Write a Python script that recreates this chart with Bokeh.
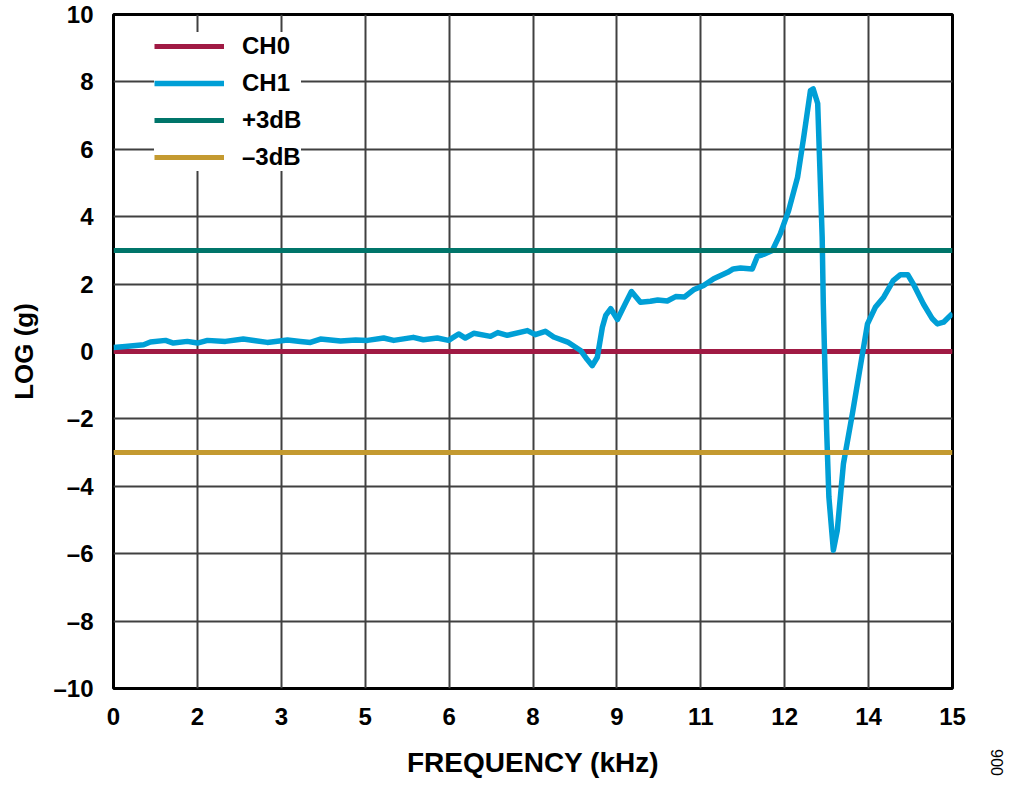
import math
from bokeh.plotting import figure
from bokeh.layouts import row
from bokeh.models import FixedTicker, Legend, LegendItem, Range1d
from bokeh.core.properties import value
from bokeh.embed import file_html
from bokeh.resources import INLINE

# ---- data ----
freq = [0.00, 0.21, 0.54, 0.66, 0.93, 1.07, 1.32, 1.50, 1.68, 2.00, 2.32, 2.54,
        2.75, 3.11, 3.34, 3.52, 3.70, 4.06, 4.33, 4.54, 4.83, 5.01, 5.36, 5.54,
        5.79, 5.99, 6.17, 6.29, 6.44, 6.74, 6.87, 7.04, 7.40, 7.54, 7.72, 7.87,
        8.12, 8.35, 8.47, 8.56, 8.65, 8.74, 8.80, 8.89, 9.01, 9.15, 9.26, 9.42,
        9.60, 9.73, 9.90, 10.05, 10.21, 10.37, 10.55, 10.73, 10.98, 11.08, 11.21,
        11.42, 11.51, 11.62, 11.78, 11.92, 12.07, 12.23, 12.34, 12.46, 12.51,
        12.59, 12.62, 12.67, 12.69, 12.72, 12.75, 12.79, 12.87, 12.94, 13.05,
        13.21, 13.39, 13.48, 13.62, 13.77, 13.94, 14.07, 14.20, 14.30, 14.48,
        14.64, 14.73, 14.84, 15.00]
ch1 = [0.12, 0.15, 0.20, 0.28, 0.33, 0.25, 0.30, 0.25, 0.33, 0.30, 0.37, 0.32,
       0.27, 0.34, 0.30, 0.27, 0.37, 0.31, 0.34, 0.33, 0.40, 0.33, 0.42, 0.35,
       0.40, 0.33, 0.52, 0.40, 0.54, 0.45, 0.56, 0.48, 0.62, 0.50, 0.60, 0.43,
       0.28, 0.03, -0.24, -0.42, -0.17, 0.72, 1.07, 1.27, 0.95, 1.42, 1.78, 1.46,
       1.49, 1.53, 1.50, 1.63, 1.62, 1.83, 1.96, 2.16, 2.35, 2.45, 2.48,
       2.45, 2.82, 2.88, 3.00, 3.49, 4.18, 5.17, 6.36, 7.74, 7.79,
       7.36, 5.87, 3.39, 1.42, -0.56, -2.34, -4.32, -5.90, -5.31, -3.33,
       -1.85, -0.07, 0.82, 1.31, 1.61, 2.10, 2.28, 2.28, 2.00, 1.41,
       0.97, 0.82, 0.87, 1.13]
ch0_freq = [0, 15]
ch0 = [0, 0]
limit_freq = [0, 15]
plus3db = [3, 3]
minus3db = [-3, -3]

x_ticks = [0, 1.5, 3, 4.5, 6, 7.5, 9, 10.5, 12, 13.5, 15]
x_tick_labels = ["0", "2", "3", "5", "6", "8", "9", "11", "12", "14", "15"]
y_ticks = [-10, -8, -6, -4, -2, 0, 2, 4, 6, 8, 10]
y_tick_labels = ["–10", "–8", "–6", "–4", "–2", "0", "2", "4", "6", "8", "10"]

series_names = ["CH0", "CH1", "+3dB", "–3dB"]
colors = ["#A01A44", "#009FD6", "#00756A", "#C49A30"]
figure_number = ["006"]

FONT = "Liberation Sans, Arial, Helvetica, sans-serif"

p = figure(width=984, height=782, output_backend="svg", toolbar_location=None,
           x_range=Range1d(0, 15), y_range=Range1d(-10, 10),
           min_border_left=113, min_border_right=32, min_border_top=14,
           min_border_bottom=94)
p.frame_align = False
p.outline_line_color = "black"
p.outline_line_width = 3
p.background_fill_color = "white"
p.border_fill_color = "white"

for ax in (p.xaxis[0], p.yaxis[0]):
    ax.axis_line_color = None
    ax.major_tick_line_color = None
    ax.minor_tick_line_color = None
    ax.major_tick_out = 0
    ax.major_tick_in = 0
    ax.major_label_text_font = FONT
    ax.major_label_text_font_style = "bold"
    ax.major_label_text_font_size = "24px"
    ax.major_label_text_color = "black"
    ax.axis_label_text_font = FONT
    ax.axis_label_text_font_style = "bold"
    ax.axis_label_text_color = "black"

p.xaxis.ticker = FixedTicker(ticks=x_ticks)
p.yaxis.ticker = FixedTicker(ticks=y_ticks)
p.xaxis.major_label_overrides = {float(t): l for t, l in zip(x_ticks, x_tick_labels)}
p.yaxis.major_label_overrides = {int(t): l for t, l in zip(y_ticks, y_tick_labels)}
p.xaxis.major_label_standoff = 19
p.yaxis.major_label_standoff = 20
p.xaxis.axis_label = "FREQUENCY (kHz)"
p.yaxis.axis_label = "LOG (g)"
p.xaxis.axis_label_text_font_size = "28px"
p.yaxis.axis_label_text_font_size = "26px"
p.xaxis.axis_label_standoff = 19
p.yaxis.axis_label_standoff = 11

p.xgrid.grid_line_color = "#404040"
p.ygrid.grid_line_color = "#404040"
p.xgrid.grid_line_width = 2
p.ygrid.grid_line_width = 2

r0 = p.line(ch0_freq, ch0, line_color=colors[0], line_width=5)
r1 = p.line(freq, ch1, line_color=colors[1], line_width=5.5, line_join="round")
r2 = p.line(limit_freq, plus3db, line_color=colors[2], line_width=5)
r3 = p.line(limit_freq, minus3db, line_color=colors[3], line_width=5)

legend = Legend(items=[LegendItem(label=n, renderers=[r])
                       for n, r in zip(series_names, [r0, r1, r2, r3])],
                location=(41, 517))
legend.border_line_color = None
legend.background_fill_color = "white"
legend.background_fill_alpha = 1.0
legend.padding = 14
legend.spacing = 9
legend.margin = 0
legend.glyph_width = 70
legend.glyph_height = 28
legend.label_height = 28
legend.label_standoff = 18
legend.label_text_font = FONT
legend.label_text_font_style = "bold"
legend.label_text_font_size = "24px"
legend.label_text_color = "black"
p.add_layout(legend, "center")

# narrow side strip carrying the rotated figure number
side = figure(width=24, height=782, output_backend="svg", toolbar_location=None,
              x_range=Range1d(0, 24), y_range=Range1d(782, 0),
              x_axis_location=None, y_axis_location=None,
              min_border=0, min_border_left=0, min_border_right=0,
              min_border_top=0, min_border_bottom=0)
side.frame_align = False
side.outline_line_color = None
side.xgrid.visible = False
side.ygrid.visible = False
side.background_fill_color = "white"
side.border_fill_color = "white"
side.text(x=[12], y=[762], text=figure_number, angle=math.pi / 2,
          text_align="center", text_baseline="middle",
          text_font=value(FONT), text_font_size="16px", text_color="black")

open("out.html", "w").write(file_html(row(p, side), INLINE))
